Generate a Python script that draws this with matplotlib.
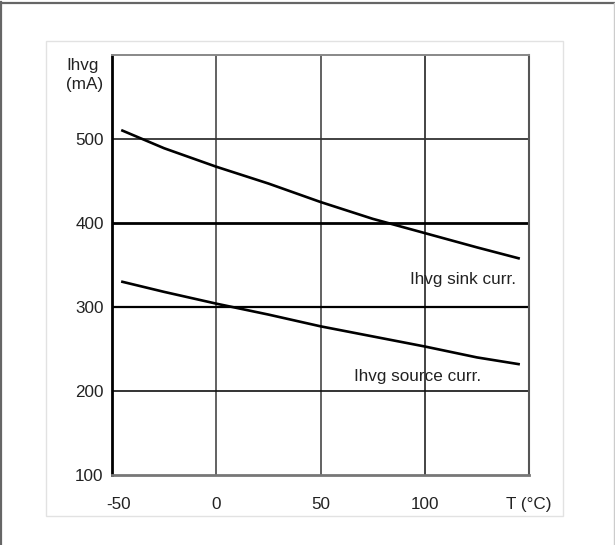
import matplotlib
matplotlib.use("Agg")
import matplotlib.pyplot as plt
from matplotlib.lines import Line2D
from matplotlib.patches import Rectangle
from matplotlib.transforms import ScaledTranslation

plt.rcParams['font.family'] = ['Liberation Sans', 'DejaVu Sans']

# Data
temp_sink = [-45, -25, 0, 25, 50, 75, 100, 125, 145]
ihvg_sink = [510, 489, 467, 447, 425, 405, 388, 371, 358]
temp_source = [-45, -25, 0, 25, 50, 75, 100, 125, 145]
ihvg_source = [330, 318, 304, 291, 277, 265, 253, 240, 232]
x_ticks = [-50, 0, 50, 100, 150]
x_tick_labels = ['-50', '0', '50', '100', 'T (°C)']
y_ticks = [100, 200, 300, 400, 500]
y_tick_labels = ['100', '200', '300', '400', '500']

W, H = 615, 545
fig = plt.figure(figsize=(W / 100, H / 100), dpi=100)
fig.patch.set_facecolor('white')

def px(x, y):
    return x / W, 1 - y / H

# outer frame
fig.add_artist(Line2D([px(1, 0)[0], px(1, 0)[0]], [0, px(0, 2)[1]], color='#666666', lw=1.6))
fig.add_artist(Line2D([px(1, 0)[0], px(614, 0)[0]], [px(0, 2.5)[1]] * 2, color='#666666', lw=1.6))
fig.add_artist(Line2D([px(613.5, 0)[0]] * 2, [0, px(0, 2.5)[1]], color='#cccccc', lw=1.0))
# inner panel
x0, y0 = px(46, 516)
x1, y1 = px(563, 41)
fig.add_artist(Rectangle((x0, y0), x1 - x0, y1 - y0, transform=fig.transFigure,
                         fill=False, edgecolor='#e2e2e2', lw=1.0))

l, t = px(112, 55)
r, b = px(529, 475)
ax = fig.add_axes([l, b, r - l, t - b])
ax.set_xlim(-50, 150)
ax.set_ylim(100, 600)

# grid lines
ax.axvline(0, color='#555555', lw=1.3, zorder=1)
ax.axvline(50, color='#555555', lw=1.3, zorder=1)
ax.axvline(100, color='#111111', lw=1.1, zorder=1)
ax.axhline(500, color='#333333', lw=1.3, zorder=1)
ax.axhline(400, color='#000000', lw=2.0, zorder=1)
ax.axhline(300, color='#000000', lw=1.6, zorder=1)
ax.axhline(200, color='#111111', lw=1.2, zorder=1)

ax.plot(temp_sink, ihvg_sink, color='black', lw=1.9, zorder=3)
ax.plot(temp_source, ihvg_source, color='black', lw=1.9, zorder=3)

ax.text(144, 333, 'Ihvg sink curr.', ha='right', va='center', fontsize=12.3, color='#222222')
ax.text(127, 217, 'Ihvg source curr.', ha='right', va='center', fontsize=12.3, color='#222222')

for s in ['top', 'right', 'bottom', 'left']:
    ax.spines[s].set_zorder(4)
ax.spines['left'].set_color('black')
ax.spines['left'].set_linewidth(2.0)
ax.spines['bottom'].set_color('#777777')
ax.spines['bottom'].set_linewidth(2.0)
ax.spines['top'].set_color('#888888')
ax.spines['top'].set_linewidth(1.4)
ax.spines['right'].set_color('#555555')
ax.spines['right'].set_linewidth(1.5)

ax.set_xticks(x_ticks)
ax.set_xticklabels(x_tick_labels)
ax.set_yticks(y_ticks)
ax.set_yticklabels(y_tick_labels)
ax.tick_params(axis='both', length=0, labelsize=12.3, labelcolor='#222222')
ax.tick_params(axis='x', pad=16)
ax.tick_params(axis='y', pad=6)
lab0 = ax.get_xticklabels()[0]
lab0.set_transform(lab0.get_transform() + ScaledTranslation(6.5 / 100, 0, fig.dpi_scale_trans))

fx, fy = px(66, 75)
fig.text(fx, fy, 'Ihvg\n(mA)', ha='left', va='center', fontsize=12.3, color='#222222', linespacing=1.35)

fig.savefig('out.png', dpi=100, facecolor='white')
